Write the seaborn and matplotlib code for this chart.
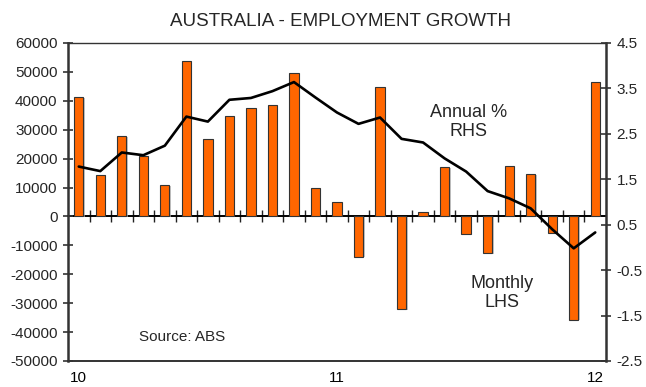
import numpy as np
import pandas as pd
import matplotlib
matplotlib.use("Agg")
import matplotlib.pyplot as plt
import matplotlib.patheffects as pe
import seaborn as sns

months = ["Jan-10", "Feb-10", "Mar-10", "Apr-10", "May-10", "Jun-10", "Jul-10", "Aug-10",
          "Sep-10", "Oct-10", "Nov-10", "Dec-10", "Jan-11", "Feb-11", "Mar-11", "Apr-11",
          "May-11", "Jun-11", "Jul-11", "Aug-11", "Sep-11", "Oct-11", "Nov-11", "Dec-11",
          "Jan-12"]
monthly = [41400, 14500, 27900, 21000, 10900, 53800, 26700, 34600, 37600, 38400, 49600,
           9800, 5000, -13900, 44800, -32000, 1700, 17100, -5900, -12700, 17500, 14700,
           -5700, -35700, 46400]
annual = [1.78, 1.68, 2.09, 2.03, 2.24, 2.88, 2.77, 3.25, 3.29, 3.44, 3.64, 3.30, 2.97,
          2.72, 2.86, 2.39, 2.31, 1.96, 1.67, 1.24, 1.08, 0.86, 0.40, -0.02, 0.33]
year_ticks = ["10", "11", "12"]
left_ticks = [60000, 50000, 40000, 30000, 20000, 10000, 0, -10000, -20000, -30000, -40000, -50000]
right_ticks = [4.5, 3.5, 2.5, 1.5, 0.5, -0.5, -1.5, -2.5]

sns.set_style("white")
plt.rcParams["font.family"] = ["Liberation Sans", "DejaVu Sans"]

df = pd.DataFrame({"month": months, "monthly": monthly, "annual": annual})
df["pos"] = np.arange(len(df))

fig = plt.figure(figsize=(6.46, 3.87), dpi=100)
ax = fig.add_axes([68 / 646, 1 - 361 / 387, (606 - 68) / 646, (361 - 43) / 387])

sns.barplot(data=df, x="month", y="monthly", color="#FF6600", saturation=1, width=0.43,
            edgecolor="#333333", linewidth=0.8, ax=ax, zorder=3)
for p in ax.patches:
    p.set_path_effects([pe.SimplePatchShadow(offset=(1.0, -0.6), shadow_rgbFace="#aaaaaa", alpha=0.7),
                        pe.Normal()])

ymin, ymax = min(left_ticks), max(left_ticks)
ax.set_ylim(ymin, ymax)
ax.set_xlim(-0.5, len(months) - 0.5)
ax.set_yticks(left_ticks)
ax.set_yticklabels([f"{v:d}" for v in left_ticks])
ax.set_xticks([0, 12, 24])
ax.set_xticklabels(year_ticks)
ax.set_xlabel("")
ax.set_ylabel("")
ax.tick_params(axis="x", length=0, pad=7, labelsize=11, colors="black")
ax.tick_params(axis="y", direction="inout", length=7, width=1.2, color="#333333",
               pad=4, labelsize=11, left=True)

for side in ["left", "right", "bottom", "top"]:
    ax.spines[side].set_visible(True)
    ax.spines[side].set_color("#333333")
ax.spines["left"].set_linewidth(1.8)
ax.spines["right"].set_linewidth(1.8)
ax.spines["bottom"].set_linewidth(1.4)
ax.spines["top"].set_linewidth(1.0)

# zero line with month separators
zero_frac = (0 - ymin) / (ymax - ymin)
sec = ax.secondary_xaxis(zero_frac)
sec.set_xticks(np.arange(0.5, len(months) - 1, 1.0))
sec.set_xticklabels([])
sec.tick_params(direction="inout", length=8, width=1.0, color="#222222")
sec.spines["bottom"].set_linewidth(1.4)
sec.spines["bottom"].set_color("black")

ax2 = ax.twinx()
sns.lineplot(data=df, x="pos", y="annual", color="black", linewidth=1.9, ax=ax2, zorder=5)
ax2.set_ylim(min(right_ticks), max(right_ticks))
ax2.set_yticks(right_ticks)
ax2.set_yticklabels([f"{v:g}" for v in right_ticks])
ax2.set_ylabel("")
ax2.set_xlabel("")
ax2.tick_params(axis="y", direction="inout", length=7, width=1.2, color="#333333",
                pad=4, labelsize=11, right=True)
for s in ax2.spines.values():
    s.set_visible(False)

fig.text(340 / 646, 1 - 22 / 387, "AUSTRALIA - EMPLOYMENT GROWTH", ha="center", va="center",
         fontsize=13.5)
fig.text(469 / 646, 1 - 122 / 387, "Annual %\nRHS", ha="center", va="center", fontsize=13,
         linespacing=1.15)
fig.text(502 / 646, 1 - 293 / 387, "Monthly\nLHS", ha="center", va="center", fontsize=13,
         linespacing=1.15)
fig.text(182 / 646, 1 - 337 / 387, "Source: ABS", ha="center", va="center", fontsize=11)

fig.savefig("out.png", dpi=100)
